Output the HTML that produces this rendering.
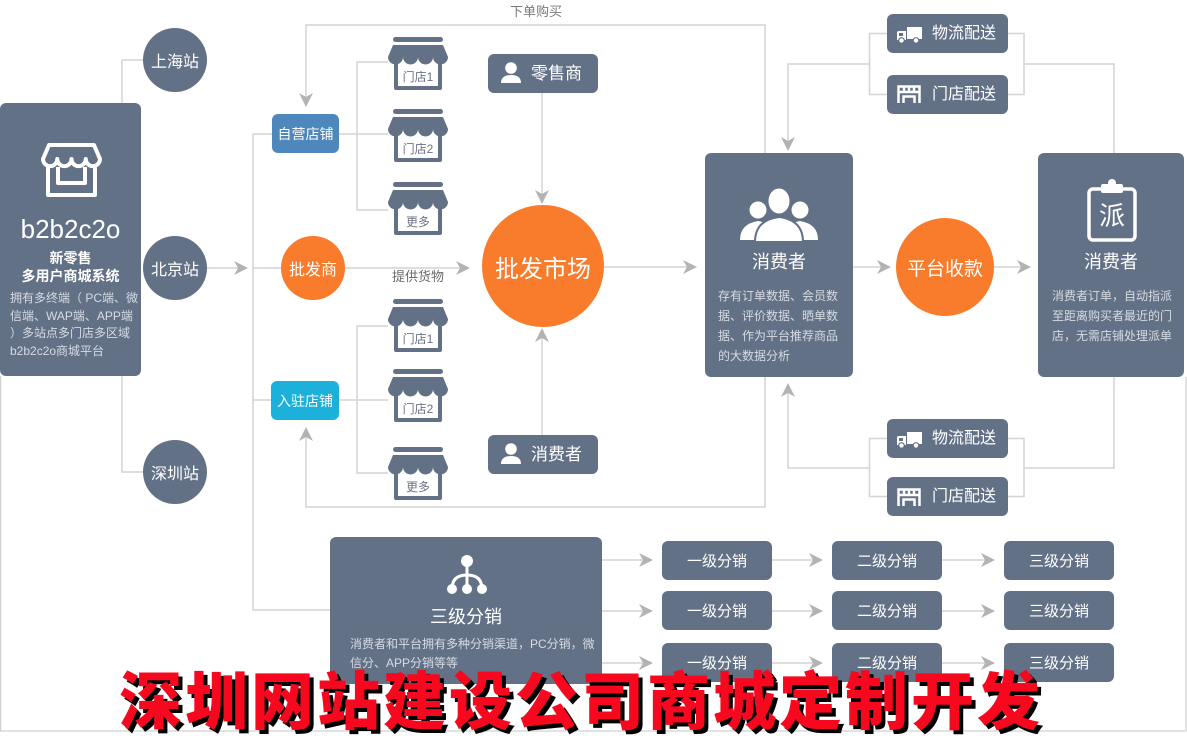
<!DOCTYPE html>
<html><head><meta charset="utf-8">
<style>
*{margin:0;padding:0;box-sizing:border-box}
body{width:1187px;height:736px;overflow:hidden;background:#fff;position:relative;font-family:"Liberation Sans","Noto Sans CJK SC",sans-serif}
.bx{position:absolute;background:#637187;color:#fff;border-radius:6px;display:flex;align-items:center;justify-content:center;white-space:nowrap}
.ci{position:absolute;border-radius:50%;color:#fff;display:flex;align-items:center;justify-content:center;white-space:nowrap}
.t{position:absolute;white-space:nowrap;line-height:1}
.c{text-align:center}
.w{color:#fff}
.d{color:#d6dbe3}
.sl{font-size:12px;color:#6a7384;width:60px;text-align:center;left:388px}
svg{position:absolute;left:0;top:0}
</style></head><body>

<svg width="1187" height="736">
<g fill="none" stroke="#d4d4d4" stroke-width="1.5">
<path d="M122 103 V60 H143"/>
<path d="M122 376 V472 H143"/>
<path d="M207 268 H240"/>
<path d="M253 134 V610 H330"/>
<path d="M253 134 H272"/>
<path d="M253 268 H281"/>
<path d="M253 400 H271"/>
<path d="M345 268 H462"/>
<path d="M339 134 H388"/>
<path d="M388 62 H357 V210 H388"/>
<path d="M339 400 H388"/>
<path d="M388 326 H357 V473 H388"/>
<path d="M765 153 V25 H306 V100"/>
<path d="M542 93 V196"/>
<path d="M542 435 V336"/>
<path d="M765 377 V507 H306 V434"/>
<path d="M604 267 H689"/>
<path d="M853 267 H883"/>
<path d="M994 267 H1023"/>
<path d="M788 144 V64 H869.5"/>
<path d="M887 33.5 H869.5 V94.5 H887"/>
<path d="M1008 33.5 H1024 V94.5 H1008"/>
<path d="M1024 64 H1114 V153"/>
<path d="M788 390 V468 H869.5"/>
<path d="M887 438.5 H869.5 V496.5 H887"/>
<path d="M1008 438.5 H1024 V496.5 H1008"/>
<path d="M1024 468 H1114 V377"/>
<path d="M602 560 H645 M602 611 H645 M602 663 H645"/>
<path d="M772 560 H815 M772 611 H815 M772 663 H815"/>
<path d="M942 560 H987 M942 611 H987 M942 663 H987"/>
</g>
<g stroke="#d0d0d0" stroke-width="1.2" fill="none">
<path d="M0.6 376 V731 H1186 V377"/>
</g>
<g fill="#b3b3b3">
<polygon points="248,268 234,261 238,268 234,275"/>
<polygon points="470,268 456,261 460,268 456,275"/>
<polygon points="697,267 683,260 687,267 683,274"/>
<polygon points="891,267 877,260 881,267 877,274"/>
<polygon points="1031,267 1017,260 1021,267 1017,274"/>
<polygon points="653,560 639,553 643,560 639,567"/>
<polygon points="653,611 639,604 643,611 639,618"/>
<polygon points="653,663 639,656 643,663 639,670"/>
<polygon points="823,560 809,553 813,560 809,567"/>
<polygon points="823,611 809,604 813,611 809,618"/>
<polygon points="823,663 809,656 813,663 809,670"/>
<polygon points="995,560 981,553 985,560 981,567"/>
<polygon points="995,611 981,604 985,611 981,618"/>
<polygon points="995,663 981,656 985,663 981,670"/>
<polygon points="306,107 299,93 306,97 313,93"/>
<polygon points="542,204 535,190 542,194 549,190"/>
<polygon points="788,151 781,137 788,141 795,137"/>
<polygon points="542,328 535,342 542,338 549,342"/>
<polygon points="306,427 299,441 306,437 313,441"/>
<polygon points="788,383 781,397 788,393 795,397"/>
</g>
</svg>

<!-- left main box -->
<div class="bx" style="left:0;top:103px;width:141px;height:273px"></div>
<div class="t c w" style="left:0;top:216px;width:141px;font-size:26px">b2b2c2o</div>
<div class="t c w" style="left:0;top:251px;width:141px;font-size:14px;font-weight:600">新零售</div>
<div class="t c w" style="left:0;top:269px;width:141px;font-size:14px;font-weight:600">多用户商城系统</div>
<div class="t d" style="left:10px;top:292px;font-size:12px">拥有多终端（ PC端、微</div>
<div class="t d" style="left:10px;top:310px;font-size:12px">信端、WAP端、APP端</div>
<div class="t d" style="left:10px;top:327px;font-size:12px">）多站点多门店多区域</div>
<div class="t d" style="left:10px;top:345px;font-size:12px">b2b2c2o商城平台</div>

<div class="ci" style="left:143px;top:28px;width:64px;height:64px;background:#637187;font-size:16px">上海站</div>
<div class="ci" style="left:143px;top:236px;width:64px;height:64px;background:#637187;font-size:16px">北京站</div>
<div class="ci" style="left:143px;top:440px;width:64px;height:64px;background:#637187;font-size:16px">深圳站</div>

<div class="bx" style="left:272px;top:114px;width:67px;height:39px;background:#4e87bb;font-size:14px">自营店铺</div>
<div class="bx" style="left:271px;top:381px;width:68px;height:39px;background:#1cb1db;font-size:14px">入驻店铺</div>
<div class="ci" style="left:281px;top:236px;width:64px;height:64px;background:#f87c2c;font-size:16px">批发商</div>
<div class="ci" style="left:482px;top:205px;width:122px;height:122px;background:#f87c2c;font-size:24px">批发市场</div>

<div class="t" style="left:510px;top:5px;font-size:13px;color:#7a7a7a">下单购买</div>
<div class="t" style="left:392px;top:270px;font-size:13px;color:#6a6a6a">提供货物</div>

<div class="bx" style="left:488px;top:54px;width:110px;height:39px"></div>
<div class="t w" style="left:531px;top:65px;font-size:17px">零售商</div>
<div class="bx" style="left:488px;top:435px;width:110px;height:39px"></div>
<div class="t w" style="left:531px;top:446px;font-size:17px">消费者</div>

<!-- middle consumer -->
<div class="bx" style="left:705px;top:153px;width:148px;height:224px"></div>
<div class="t c w" style="left:705px;top:253px;width:148px;font-size:18px">消费者</div>
<div class="t d" style="left:718px;top:290px;font-size:12px">存有订单数据、会员数</div>
<div class="t d" style="left:718px;top:310px;font-size:12px">据、评价数据、晒单数</div>
<div class="t d" style="left:718px;top:330px;font-size:12px">据、作为平台推荐商品</div>
<div class="t d" style="left:718px;top:350px;font-size:12px">的大数据分析</div>

<div class="ci" style="left:896px;top:218px;width:98px;height:98px;background:#f87c2c;font-size:19px">平台收款</div>

<!-- right consumer -->
<div class="bx" style="left:1038px;top:153px;width:146px;height:224px"></div>
<div class="t c w" style="left:1038px;top:253px;width:146px;font-size:18px">消费者</div>
<div class="t d" style="left:1052px;top:290px;font-size:12px">消费者订单，自动指派</div>
<div class="t d" style="left:1052px;top:310px;font-size:12px">至距离购买者最近的门</div>
<div class="t d" style="left:1052px;top:330px;font-size:12px">店，无需店铺处理派单</div>
<div class="t c w" style="left:1089px;top:203px;width:46px;font-size:26px">派</div>

<!-- delivery boxes -->
<div class="bx" style="left:887px;top:14px;width:121px;height:39px"></div>
<div class="t w" style="left:932px;top:25.5px;font-size:16px">物流配送</div>
<div class="bx" style="left:887px;top:75px;width:121px;height:39px"></div>
<div class="t w" style="left:932px;top:86.5px;font-size:16px">门店配送</div>
<div class="bx" style="left:887px;top:419px;width:121px;height:39px"></div>
<div class="t w" style="left:932px;top:430.5px;font-size:16px">物流配送</div>
<div class="bx" style="left:887px;top:477px;width:121px;height:39px"></div>
<div class="t w" style="left:932px;top:488.5px;font-size:16px">门店配送</div>

<!-- distribution -->
<div class="bx" style="left:330px;top:537px;width:272px;height:147px"></div>
<div class="t c w" style="left:330px;top:608px;width:272px;font-size:18px">三级分销</div>
<div class="t d" style="left:350px;top:638px;font-size:12px">消费者和平台拥有多种分销渠道，PC分销，微</div>
<div class="t d" style="left:350px;top:657px;font-size:12px">信分、APP分销等等</div>

<div class="bx" style="left:662px;top:541px;width:110px;height:39px;font-size:15px">一级分销</div>
<div class="bx" style="left:662px;top:591px;width:110px;height:39px;font-size:15px">一级分销</div>
<div class="bx" style="left:662px;top:643px;width:110px;height:39px;font-size:15px">一级分销</div>
<div class="bx" style="left:832px;top:541px;width:110px;height:39px;font-size:15px">二级分销</div>
<div class="bx" style="left:832px;top:591px;width:110px;height:39px;font-size:15px">二级分销</div>
<div class="bx" style="left:832px;top:643px;width:110px;height:39px;font-size:15px">二级分销</div>
<div class="bx" style="left:1004px;top:541px;width:110px;height:39px;font-size:15px">三级分销</div>
<div class="bx" style="left:1004px;top:591px;width:110px;height:39px;font-size:15px">三级分销</div>
<div class="bx" style="left:1004px;top:643px;width:110px;height:39px;font-size:15px">三级分销</div>

<!-- icons -->
<svg width="1187" height="736">
<defs>
<g id="st" fill="#637187">
<rect x="5" y="0" width="50" height="5" rx="2.5"/>
<path d="M5 8 H55 L60 20 A7.5 7.5 0 0 1 45 20 A7.5 7.5 0 0 1 30 20 A7.5 7.5 0 0 1 15 20 A7.5 7.5 0 0 1 0 20 Z"/>
<path d="M6 24 H10 V49 H50 V24 H54 V51 Q54 53 52 53 H8 Q6 53 6 51 Z"/>
</g>
<g id="tr">
<rect x="10" y="0" width="15" height="12" fill="#fff"/>
<path d="M0 13 V6 Q0 4 2 4 H9 V13 Z" fill="#fff"/>
<rect x="2" y="6" width="4" height="3" fill="#637187"/>
<circle cx="4.5" cy="13.5" r="2.8" fill="#fff" stroke="#637187" stroke-width="1.2"/>
<circle cx="19" cy="13.5" r="2.8" fill="#fff" stroke="#637187" stroke-width="1.2"/>
</g>
<g id="sd" fill="none" stroke="#fff" stroke-width="2.5">
<path d="M1.5 18 V1.5 H22.5 V18"/>
<path d="M1.5 7 H22.5"/>
<path d="M7 1.5 V7 M12 1.5 V7 M17 1.5 V7"/>
<path d="M6.5 18 V11.5 H17.5 V18"/>
</g>
<g id="pp" fill="#fff">
<circle cx="0" cy="0" r="5.8"/>
<path d="M-10 15 Q-10 7 0 7 Q10 7 10 15 Z"/>
</g>
</defs>

<g fill="none" stroke="#fff" stroke-width="4" stroke-linejoin="round">
<path d="M49 145 H94 L100 159 A7.125 7.125 0 0 1 85.75 159 A7.125 7.125 0 0 1 71.5 159 A7.125 7.125 0 0 1 57.25 159 A7.125 7.125 0 0 1 43 159 Z"/>
<path d="M48 167 V195 H95 V167"/>
<path d="M58 167 V183 H85 V167"/>
</g>

<use href="#st" x="388" y="37"/>
<use href="#st" x="388" y="109"/>
<use href="#st" x="388" y="182"/>
<use href="#st" x="388" y="299"/>
<use href="#st" x="388" y="369"/>
<use href="#st" x="388" y="447"/>

<use href="#pp" x="511" y="68"/>
<use href="#pp" x="511" y="449"/>

<use href="#tr" x="897" y="27"/>
<use href="#tr" x="897" y="432"/>
<use href="#sd" x="897" y="85"/>
<use href="#sd" x="897" y="488"/>

<g fill="#fff">
<circle cx="758" cy="210" r="8.5"/>
<circle cx="800" cy="210" r="8.5"/>
<path d="M740 240 Q740 224 758 221 Q776 224 776 240 Z"/>
<path d="M782 240 Q782 224 800 221 Q818 224 818 240 Z"/>
<g stroke="#637187" stroke-width="2">
<ellipse cx="779" cy="201" rx="11.5" ry="13.5"/>
<path d="M755 242 Q755 220 779 217 Q803 220 803 242 Z"/>
</g>
</g>

<rect x="1089" y="189" width="46" height="51" rx="4" fill="none" stroke="#fff" stroke-width="3.5"/>
<rect x="1101" y="184" width="22" height="9" rx="2" fill="#fff"/>
<circle cx="1112" cy="183" r="4" fill="#fff"/>

<g fill="#fff" stroke="#fff">
<circle cx="467" cy="561" r="6" stroke="none"/>
<line x1="467" y1="561" x2="467" y2="589" stroke-width="3"/>
<path d="M452 589 Q452 575 467 575 Q482 575 482 589" fill="none" stroke-width="3"/>
<circle cx="452" cy="589" r="5" stroke="none"/>
<circle cx="467" cy="589" r="5" stroke="none"/>
<circle cx="482" cy="589" r="5" stroke="none"/>
</g>
</svg>

<div class="t sl" style="top:71px">门店1</div>
<div class="t sl" style="top:143px">门店2</div>
<div class="t sl" style="top:216px">更多</div>
<div class="t sl" style="top:333px">门店1</div>
<div class="t sl" style="top:403px">门店2</div>
<div class="t sl" style="top:481px">更多</div>

<div class="t" style="left:119px;top:666px;font-size:63px;font-weight:900;letter-spacing:3px;color:#f8081f;text-shadow:4px 4px 0 #000;font-family:'Noto Sans CJK SC','WenQuanYi Zen Hei',sans-serif">深圳网站建设公司商城定制开发</div>

</body></html>
